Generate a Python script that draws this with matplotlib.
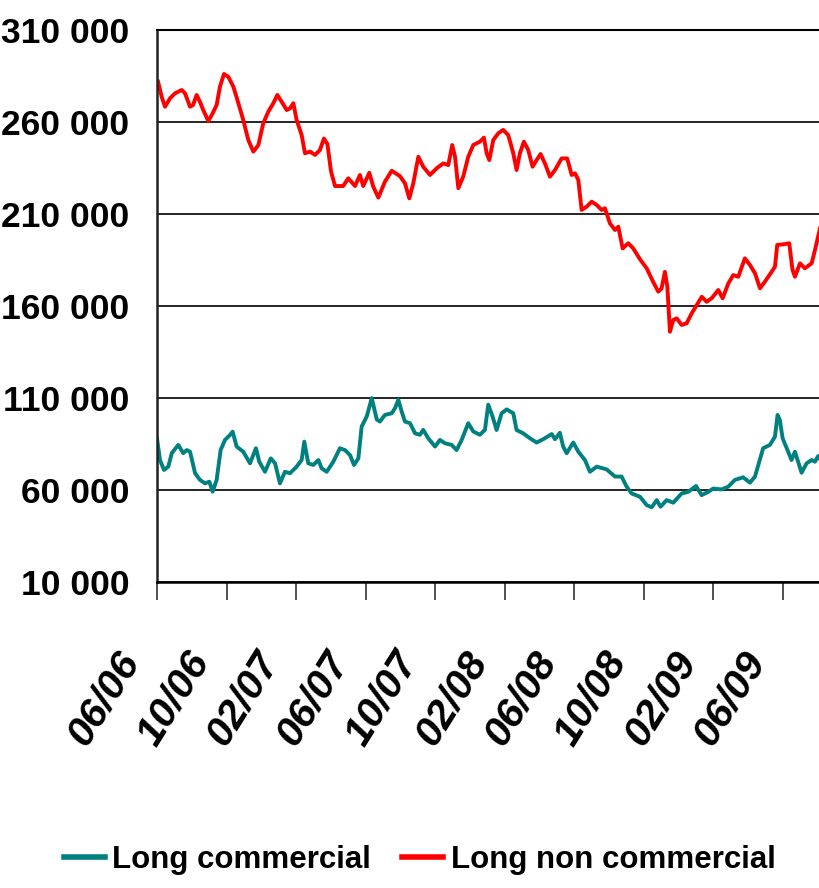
import matplotlib
matplotlib.use("Agg")
import matplotlib.pyplot as plt
import matplotlib.transforms as mtransforms

# x = months since June 2006
months_nc = [0.06, 0.27, 0.46, 0.75, 1.04, 1.42, 1.61, 1.90, 2.07, 2.28, 2.47, 2.66, 2.95, 3.15, 3.43,
             3.62, 3.85, 4.10, 4.39, 4.68, 4.96, 5.25, 5.54, 5.83, 6.11, 6.40, 6.69, 6.92, 7.17, 7.46,
             7.65, 7.84, 8.03, 8.32, 8.51, 8.80, 9.09, 9.37, 9.60, 9.80, 10.01, 10.24, 10.71, 11.00,
             11.39, 11.67, 11.86, 12.21, 12.44, 12.73, 13.11, 13.50, 13.97, 14.26, 14.51, 14.74,
             15.03, 15.31, 15.70, 16.08, 16.46, 16.75, 16.98, 17.14, 17.33, 17.61, 17.90, 18.19,
             18.57, 18.80, 18.96, 19.11, 19.34, 19.63, 19.91, 20.20, 20.49, 20.68, 20.87, 21.10,
             21.35, 21.60, 21.83, 22.06, 22.31, 22.60, 22.89, 23.27, 23.59, 23.85, 24.04, 24.23,
             24.42, 24.71, 25.00, 25.29, 25.57, 25.76, 26.05, 26.34, 26.53, 26.78, 27.10, 27.39,
             27.77, 28.16, 28.54, 28.83, 29.02, 29.21, 29.35, 29.50, 29.69, 29.89, 30.17, 30.46,
             30.75, 31.04, 31.33, 31.61, 31.90, 32.28, 32.53, 32.86, 33.14, 33.43, 33.81, 34.10,
             34.39, 34.68, 34.96, 35.35, 35.54, 35.67, 36.01, 36.36, 36.55, 36.69, 36.98, 37.26,
             37.65, 37.84, 38.13]
long_non_commercial = [281900, 273700, 268300, 272900, 275600, 277400, 275600, 268300, 269200, 274700,
                       271000, 266500, 260500, 263800, 269200, 279200, 286100, 284600, 279200, 270200,
                       261100, 250200, 243900, 247500, 259300, 265600, 270200, 274700, 271000, 266500,
                       267400, 270200, 261100, 252900, 243000, 243900, 242100, 244800, 251000, 248000,
                       233000, 225200, 225200, 229400, 225200, 231200, 225200, 232400, 224800, 218900,
                       227600, 233500, 230600, 226700, 218500, 226700, 241100, 235700, 231200, 234800,
                       237500, 236600, 247500, 241100, 224000, 230300, 241100, 247500, 249300, 251500,
                       243000, 239300, 250200, 253900, 255700, 252900, 243000, 233900, 243000, 249300,
                       244800, 235700, 239300, 242600, 237500, 230300, 233900, 240200, 240200, 231200,
                       232100, 228500, 212200, 214000, 216700, 214900, 212200, 213100, 204900, 201300,
                       203100, 191300, 194100, 191300, 185500, 180500, 173000, 167800, 169600, 178600,
                       170500, 146000, 152400, 153300, 149700, 150600, 156000, 160500, 165000, 162300,
                       164200, 168700, 164200, 172300, 176800, 175900, 185900, 182300, 177800, 169600,
                       173200, 178600, 181400, 193200, 193500, 194100, 179600, 175900, 183200, 180500,
                       183200, 190400, 202200]

months_c = [0.00, 0.17, 0.40, 0.65, 0.85, 1.22, 1.51, 1.71, 1.90, 2.19, 2.47, 2.76, 3.01, 3.20, 3.43,
            3.66, 3.91, 4.20, 4.35, 4.58, 4.96, 5.35, 5.69, 5.88, 6.21, 6.54, 6.79, 7.07, 7.36, 7.65,
            8.03, 8.32, 8.47, 8.70, 8.99, 9.28, 9.47, 9.76, 10.14, 10.52, 10.81, 11.10, 11.33, 11.58,
            11.77, 12.06, 12.35, 12.64, 12.82, 13.11, 13.50, 13.69, 13.88, 14.07, 14.26, 14.55, 14.84,
            15.12, 15.31, 15.60, 15.99, 16.27, 16.56, 16.95, 17.23, 17.52, 17.90, 18.19, 18.57, 18.86,
            19.05, 19.30, 19.53, 19.82, 20.11, 20.49, 20.68, 21.06, 21.45, 21.83, 22.21, 22.70, 22.89,
            23.17, 23.36, 23.56, 23.94, 24.23, 24.61, 24.90, 25.29, 25.86, 26.34, 26.72, 27.01, 27.30,
            27.78, 28.16, 28.45, 28.74, 28.96, 29.31, 29.69, 30.17, 30.55, 31.00, 31.32, 31.70, 31.99,
            32.47, 32.85, 33.24, 33.71, 34.10, 34.39, 34.58, 34.86, 35.25, 35.54, 35.69, 35.82, 35.98,
            36.30, 36.49, 36.69, 37.07, 37.36, 37.65, 37.84, 38.03, 38.13]
long_commercial = [88100, 76300, 70900, 72700, 80000, 84500, 80000, 81700, 80800, 69100, 65500, 63600,
                   64500, 59100, 65500, 81700, 87200, 89900, 91700, 83600, 80800, 74500, 82700, 75400,
                   69900, 77200, 74500, 63600, 69900, 69100, 72700, 76300, 86300, 74500, 73600, 76300,
                   71800, 69900, 75400, 82700, 81700, 79000, 73600, 77200, 94500, 99900, 109900, 98300,
                   97200, 100800, 101700, 104500, 109000, 102700, 97200, 96300, 90800, 90000, 92700,
                   88100, 83600, 87200, 85400, 84500, 81700, 87200, 96300, 91800, 90000, 92700, 106400,
                   99900, 92600, 101700, 103800, 101700, 92600, 90800, 88100, 85800, 87600, 90400,
                   87600, 91100, 83600, 80000, 85800, 80800, 76300, 69900, 72700, 71200, 67300, 67300,
                   61800, 58100, 56300, 51800, 50600, 54500, 50900, 54500, 53100, 58100, 59000, 62200,
                   57200, 59000, 60800, 60300, 61800, 65500, 66900, 64000, 67300, 73600, 82700, 84500,
                   89000, 100800, 98100, 88100, 80800, 76300, 80800, 69400, 74500, 76300, 75400, 78500,
                   77000]

tick_months = [0, 4, 8, 12, 16, 20, 24, 28, 32, 36]
tick_labels = ["06/06", "10/06", "02/07", "06/07", "10/07", "02/08", "06/08", "10/08", "02/09", "06/09"]
y_ticks = [10000, 60000, 110000, 160000, 210000, 260000, 310000]

fonts = ["Liberation Sans", "DejaVu Sans"]

fig = plt.figure(figsize=(8.2, 8.88), dpi=100)
ax = fig.add_axes([157 / 820, 1 - 582 / 888, 663 / 820, 552 / 888])

ax.plot(months_c, long_commercial, color="#008080", lw=2.8, label="Long commercial")
ax.plot(months_nc, long_non_commercial, color="#ff0000", lw=2.8, label="Long non commercial")

ax.set_xlim(0, 38.13)
ax.set_ylim(10000, 310000)
ax.set_yticks(y_ticks)
ax.set_yticklabels([f"{v:,}".replace(",", " ") for v in y_ticks],
                   fontsize=25.5, fontweight="bold", family=fonts)
ax.set_xticks(tick_months)
ax.set_xticklabels(tick_labels, rotation=58, ha="right", fontsize=29.5,
                   fontweight="bold", fontstyle="italic", family=fonts)

ax.tick_params(axis="y", length=0, pad=20)
ax.tick_params(axis="x", direction="out", length=13, width=1.2, color="#333333", pad=30)

# nudge date labels left/down (after tick_params, which resets transforms)
offset = mtransforms.ScaledTranslation(-10 / 100, -3 / 100, fig.dpi_scale_trans)
for lbl in ax.get_xticklabels():
    lbl.set_transform(lbl.get_transform() + offset)

ax.grid(axis="y", color="black", lw=1.2)
ax.spines["right"].set_visible(False)
ax.spines["top"].set_color("black")
ax.spines["top"].set_linewidth(1.5)
ax.spines["left"].set_linewidth(1.8)
ax.spines["bottom"].set_linewidth(1.8)
ax.spines["left"].set_color("#222222")

fig.legend(loc="center", bbox_to_anchor=(0.512, 1 - 860 / 888), ncol=2, frameon=False,
           prop={"family": fonts, "weight": "bold", "size": 22.5},
           handlelength=1.3, handletextpad=0.25, columnspacing=1.0)
for h in fig.legends[0].legend_handles:
    h.set_linewidth(4)

fig.savefig("out.png", dpi=100)
